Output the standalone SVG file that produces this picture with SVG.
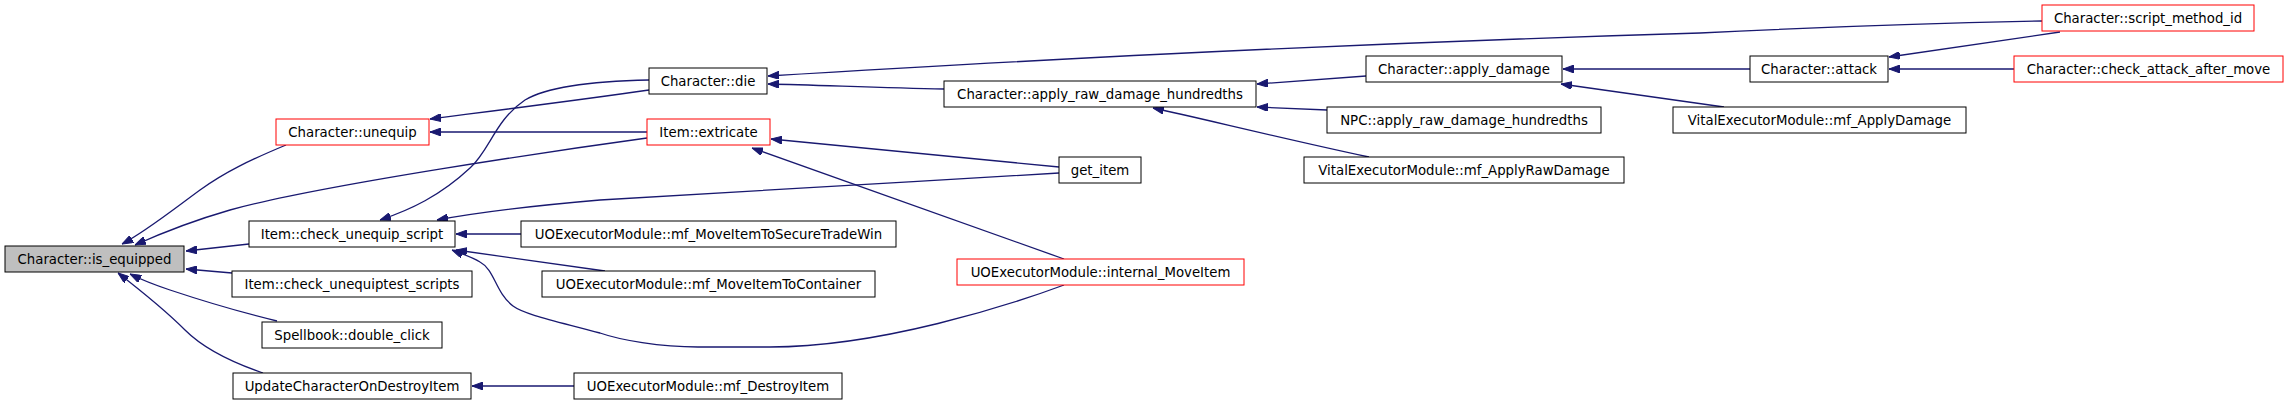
<svg xmlns="http://www.w3.org/2000/svg" width="2288" height="404" viewBox="0 0 2288 404">
<style>
.n rect{fill:#fff;stroke:#000;stroke-width:1}
.n.r rect{stroke:#ff0000}
.n.g rect{fill:#bfbfbf}
.n text{font-family:"DejaVu Sans",sans-serif;font-size:13.3px;fill:#000;text-anchor:middle}
#edges path{fill:none;stroke:#191970;stroke-width:1.3;marker-end:url(#ah)}
</style>
<defs>
<marker id="ah" viewBox="0 0 11 8" refX="11" refY="4" markerWidth="11" markerHeight="8" markerUnits="userSpaceOnUse" orient="auto">
<path d="M0,0 L11,4 L0,8 z" fill="#191970" stroke="#191970" stroke-width="1"/>
</marker>
</defs>
<rect width="2288" height="404" fill="#fff"/>
<g id="edges">
<path d="M286,145 C250,160 225,172 200,190 C170,212 145,232 122,244"/>
<path d="M647,138 C560,150 320,185 230,210 C185,223 155,236 135,245"/>
<path d="M249,244 L186,251"/>
<path d="M232,273 L186,269"/>
<path d="M277,321 C240,312 200,300 170,290 C155,285 140,279 130,274"/>
<path d="M263,373 C225,360 200,345 185,330 C165,310 140,290 118,273"/>
<path d="M649,90 C580,100 500,110 430,119"/>
<path d="M647,132 L430,132"/>
<path d="M649,80 C600,81 550,85 525,100 C495,120 490,150 470,168 C440,196 410,210 380,220"/>
<path d="M1059,173 C900,182 700,195 600,200 C530,206 480,212 437,220"/>
<path d="M1059,167 L771,139"/>
<path d="M1064,259 L752,148"/>
<path d="M1064,285 C1010,305 880,347 770,347 L698,347 C660,347 620,340 600,333 C560,322 525,315 513,306 C495,292 495,270 480,262 C470,256 462,254 452,250"/>
<path d="M521,234 L456,234"/>
<path d="M605,271 L456,250"/>
<path d="M574,386 L472,386"/>
<path d="M944,89 C880,88 820,85 768,84"/>
<path d="M2042,21 C1900,24 1800,28 1700,33 C1300,45 1000,62 768,76"/>
<path d="M1366,76 L1257,84"/>
<path d="M1327,110 L1257,107"/>
<path d="M1369,157 C1280,138 1200,118 1153,108"/>
<path d="M1750,69 L1563,69"/>
<path d="M1724,107 L1561,84"/>
<path d="M2060,32 L1889,57"/>
<path d="M2014,69 L1889,69"/>
</g>
<g id="is_equipped" class="n g"><rect x="5" y="246" width="179" height="26"/><text x="94.5" y="263.5">Character::is_equipped</text></g>
<g id="unequip" class="n r"><rect x="276" y="119" width="153" height="26"/><text x="352.5" y="136.5">Character::unequip</text></g>
<g id="check_unequip_script" class="n"><rect x="249" y="221" width="206" height="26"/><text x="352" y="238.5">Item::check_unequip_script</text></g>
<g id="check_unequiptest_scripts" class="n"><rect x="232" y="271" width="240" height="26"/><text x="352" y="288.5">Item::check_unequiptest_scripts</text></g>
<g id="double_click" class="n"><rect x="262" y="322" width="180" height="26"/><text x="352" y="339.5">Spellbook::double_click</text></g>
<g id="UpdateCharacterOnDestroyItem" class="n"><rect x="233" y="373" width="238" height="26"/><text x="352" y="390.5">UpdateCharacterOnDestroyItem</text></g>
<g id="die" class="n"><rect x="649" y="68" width="118" height="26"/><text x="708" y="85.5">Character::die</text></g>
<g id="extricate" class="n r"><rect x="647" y="119" width="123" height="26"/><text x="708.5" y="136.5">Item::extricate</text></g>
<g id="mf_MoveItemToSecureTradeWin" class="n"><rect x="521" y="221" width="375" height="26"/><text x="708.5" y="238.5">UOExecutorModule::mf_MoveItemToSecureTradeWin</text></g>
<g id="mf_MoveItemToContainer" class="n"><rect x="542" y="271" width="333" height="26"/><text x="708.5" y="288.5">UOExecutorModule::mf_MoveItemToContainer</text></g>
<g id="mf_DestroyItem" class="n"><rect x="574" y="373" width="268" height="26"/><text x="708" y="390.5">UOExecutorModule::mf_DestroyItem</text></g>
<g id="apply_raw_damage_hundredths" class="n"><rect x="944" y="81" width="312" height="26"/><text x="1100" y="98.5">Character::apply_raw_damage_hundredths</text></g>
<g id="get_item" class="n"><rect x="1059" y="157" width="82" height="26"/><text x="1100" y="174.5">get_item</text></g>
<g id="internal_MoveItem" class="n r"><rect x="957" y="259" width="287" height="26"/><text x="1100.5" y="276.5">UOExecutorModule::internal_MoveItem</text></g>
<g id="apply_damage" class="n"><rect x="1366" y="56" width="196" height="26"/><text x="1464" y="73.5">Character::apply_damage</text></g>
<g id="npc_apply_raw_damage_hundredths" class="n"><rect x="1327" y="107" width="274" height="26"/><text x="1464" y="124.5">NPC::apply_raw_damage_hundredths</text></g>
<g id="mf_ApplyRawDamage" class="n"><rect x="1304" y="157" width="320" height="26"/><text x="1464" y="174.5">VitalExecutorModule::mf_ApplyRawDamage</text></g>
<g id="attack" class="n"><rect x="1750" y="56" width="138" height="26"/><text x="1819" y="73.5">Character::attack</text></g>
<g id="mf_ApplyDamage" class="n"><rect x="1673" y="107" width="293" height="26"/><text x="1819.5" y="124.5">VitalExecutorModule::mf_ApplyDamage</text></g>
<g id="script_method_id" class="n r"><rect x="2042" y="5" width="212" height="26"/><text x="2148" y="22.5">Character::script_method_id</text></g>
<g id="check_attack_after_move" class="n r"><rect x="2014" y="56" width="269" height="26"/><text x="2148.5" y="73.5">Character::check_attack_after_move</text></g>
</svg>
